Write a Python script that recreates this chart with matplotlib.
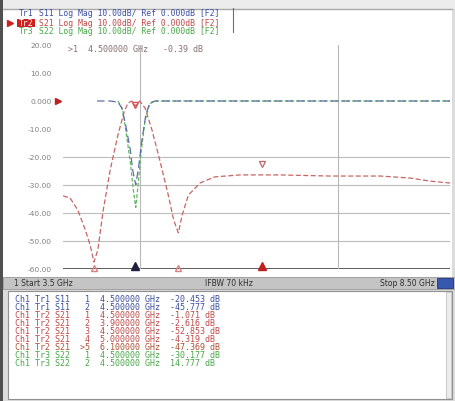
import numpy as np
import matplotlib
matplotlib.use("Agg")
import matplotlib.pyplot as plt
import matplotlib.patches as patches

# trace data (GHz, dB)
s21_f = [3.50, 3.59, 3.69, 3.78, 3.85, 3.90, 3.95, 4.02, 4.11, 4.21, 4.29, 4.34, 4.39, 4.44,
         4.49, 4.56, 4.65, 4.75, 4.86, 4.93, 4.99, 5.04, 5.12, 5.27, 5.46, 5.79, 6.30, 6.95,
         7.60, 7.98, 8.24, 8.50]
s21_db = [-33.9, -34.6, -38.9, -45.4, -51.4, -57.5, -53.2, -38.9, -24.6, -12.1, -3.9, -0.7, 0.0, -1.8,
          0.0, -2.5, -10.4, -21.1, -33.6, -42.5, -47.1, -40.7, -33.6, -29.3, -27.1, -26.4, -26.4, -26.8,
          -26.8, -27.5, -28.6, -29.3]

s11_f = [3.94, 4.11, 4.21, 4.26, 4.31, 4.37, 4.40, 4.44, 4.48, 4.52, 4.57, 4.62, 4.69, 8.50]
s11_db = [0.0, 0.0, -0.4, -2.5, -8.6, -17.5, -24.6, -30.0, -22.9, -13.9, -5.0, -0.7, 0.0, 0.0]

s22_f = [4.21, 4.27, 4.32, 4.37, 4.41, 4.44, 4.47, 4.51, 4.56, 4.62, 4.69, 8.50]
s22_db = [0.0, -3.0, -12.0, -22.0, -32.0, -38.0, -30.0, -18.0, -7.0, -1.0, 0.0, 0.0]

y_ticks = [20, 10, 0, -10, -20, -30, -40, -50, -60]
y_labels = ["20.00", "10.00", "0.000", "-10.00", "-20.00", "-30.00", "-40.00", "-50.00", "-60.00"]

marker_f = [3.90, 4.43, 4.99, 6.07]
vlines_f = [4.495, 7.05]

# (trace tag, rest of the line, colour)
header = [("Tr1", "S11 Log Mag 10.00dB/ Ref 0.000dB [F2]", "#3c4fa0"),
          ("Tr2", "S21 Log Mag 10.00dB/ Ref 0.000dB [F2]", "#c04848"),
          ("Tr3", "S22 Log Mag 10.00dB/ Ref 0.000dB [F2]", "#48a848")]
active_tr = 1

table = [("Ch1 Tr1 S11   1  4.500000 GHz  -20.453 dB", "#3c4fa0"),
         ("Ch1 Tr1 S11   2  4.500000 GHz  -45.777 dB", "#3c4fa0"),
         ("Ch1 Tr2 S21   1  4.500000 GHz  -1.071 dB", "#c04848"),
         ("Ch1 Tr2 S21   2  3.900000 GHz  -2.616 dB", "#c04848"),
         ("Ch1 Tr2 S21   3  4.500000 GHz  -52.853 dB", "#c04848"),
         ("Ch1 Tr2 S21   4  5.000000 GHz  -4.319 dB", "#c04848"),
         ("Ch1 Tr2 S21  >5  6.100000 GHz  -47.369 dB", "#b05030"),
         ("Ch1 Tr3 S22   1  4.500000 GHz  -30.177 dB", "#48a848"),
         ("Ch1 Tr3 S22   2  4.500000 GHz  14.777 dB", "#48a848")]

W, H = 455, 401
mono = "DejaVu Sans Mono"
hfs = 5.9
cw = 0.602 * hfs * 100 / 72  # monospace char width in px

fig = plt.figure(figsize=(W / 100, H / 100), dpi=100)
fig.set_facecolor("#dcdcdc")

# overlay in pixel coords for the screen furniture
ov = fig.add_axes([0, 0, 1, 1])
ov.set_xlim(0, W)
ov.set_ylim(H, 0)
ov.axis("off")

ov.add_patch(patches.Rectangle((0, 0), W, 9, facecolor="#ececec", edgecolor="none"))
ov.add_patch(patches.Rectangle((3, 9), 449, 268, facecolor="white", edgecolor="none"))
ov.add_patch(patches.Rectangle((0, 0), 3, H, facecolor="#505050", edgecolor="none"))
ov.plot([3, 452], [9, 9], color="#a8a8a8", lw=1)
ov.plot([233, 233], [8, 32], color="#707070", lw=0.8)

# header lines
for i, (tag, s, c) in enumerate(header):
    y = 14 + 9 * i
    if i == active_tr:
        ov.add_patch(patches.Rectangle((17, y - 4), 3 * cw + 3, 8, facecolor="#d02020", edgecolor="none"))
        ov.text(19, y, tag, color="white", fontsize=hfs, family=mono, va="center", ha="left")
        ov.plot([10], [y], marker=">", color="#d02020", ms=4)
    else:
        ov.text(19, y, tag, color=c, fontsize=hfs, family=mono, va="center", ha="left")
    ov.text(19 + 4 * cw, y, s, color=c, fontsize=hfs, family=mono, va="center", ha="left")

# marker readout
ov.text(68, 50, ">1  4.500000 GHz   -0.39 dB", color="#8a7070", fontsize=6.0, family=mono,
        va="center", ha="left")

# status bar
ov.add_patch(patches.Rectangle((3, 277), 452, 12, facecolor="#c4c4c4", edgecolor="#9a9a9a", lw=0.6))
ov.text(14, 283, "1 Start 3.5 GHz", fontsize=5.5, va="center", color="#303030")
ov.text(205, 283, "IFBW 70 kHz", fontsize=5.5, va="center", color="#303030")
ov.text(380, 283, "Stop 8.50 GHz", fontsize=5.5, va="center", color="#303030")
ov.add_patch(patches.Rectangle((437, 278), 16, 10, facecolor="#3858b0", edgecolor="#203880", lw=0.6))

# marker table panel
ov.add_patch(patches.Rectangle((8, 291), 444, 108, facecolor="white", edgecolor="#909090", lw=0.8))
ov.add_patch(patches.Rectangle((446, 292), 5, 106, facecolor="#ececec", edgecolor="#b8b8b8", lw=0.5))
for i, (s, c) in enumerate(table):
    ov.text(15, 299 + 8.1 * i, s, color=c, fontsize=6.0, family=mono, va="center", ha="left")

# main trace axes
x0, x1, ytop, ybot = 63, 450, 45, 269
ax = fig.add_axes([x0 / W, 1 - ybot / H, (x1 - x0) / W, (ybot - ytop) / H])
ax.set_facecolor("none")
ax.set_xlim(3.5, 8.5)
ax.set_ylim(-60, 20)
for sp in ax.spines.values():
    sp.set_visible(False)
ax.set_xticks([])
ax.set_yticks(y_ticks)
ax.set_yticklabels(y_labels, fontsize=5.4, color="#808080")
ax.tick_params(axis="y", length=0, pad=8)

for g in [-20, -30, -40, -50]:
    ax.axhline(g, color="#bcbcbc", lw=0.8, zorder=1)
ax.axhline(-60, color="#505050", lw=1.3, zorder=1)
for v in vlines_f:
    ax.axvline(v, color="#b8b8b8", lw=0.8, zorder=1)

ax.plot(s21_f, s21_db, color="#c86464", lw=0.9, ls=(0, (4, 2)), zorder=3)
ax.plot(s22_f, s22_db, color="#60b860", lw=0.9, ls=(0, (3, 1.5)), zorder=3)
ax.plot(s11_f, s11_db, color="#6070a8", lw=0.9, ls=(0, (6, 3)), zorder=4)

# markers on the traces and on the bottom edge
ax.plot([4.43], [-1.5], marker="v", ms=5, mfc="none", mec="#d05050", clip_on=False, zorder=5)
ax.plot([6.07], [-22.5], marker="v", ms=4, mfc="none", mec="#c07070", clip_on=False, zorder=5)
ax.plot(marker_f[1], -59, marker="^", ms=6, color="#202040", clip_on=False, zorder=5)
ax.plot(marker_f[3], -59, marker="^", ms=6, color="#c02020", clip_on=False, zorder=5)
ax.plot([marker_f[0], marker_f[2]], [-59.5, -59.5], ls="none", marker="^", ms=4, mfc="none",
        mec="#e08080", clip_on=False, zorder=5)

# reference arrow
ov.plot([58], [101], marker=">", ms=5, color="#c02020")

fig.savefig("out.png", dpi=100, facecolor=fig.get_facecolor())
